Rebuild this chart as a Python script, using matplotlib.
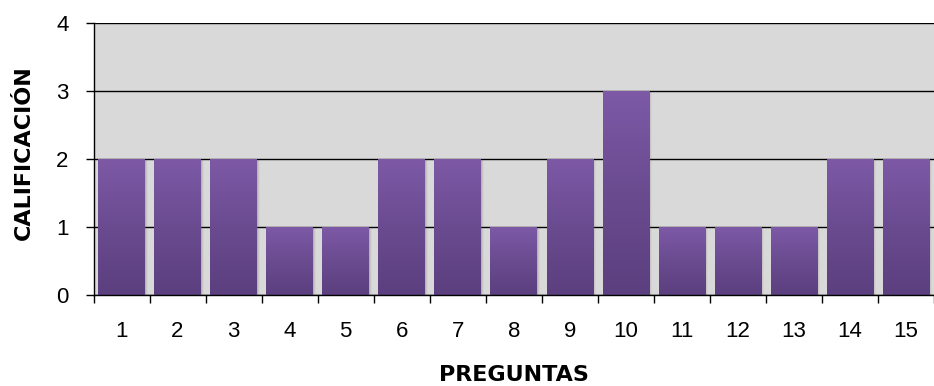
import numpy as np
import matplotlib
matplotlib.use("Agg")
import matplotlib.pyplot as plt
from matplotlib.colors import LinearSegmentedColormap
from matplotlib.patches import Rectangle

preguntas = [str(i) for i in range(1, 16)]
calificacion = [2, 2, 2, 1, 1, 2, 2, 1, 2, 3, 1, 1, 1, 2, 2]

plt.rcParams['font.family'] = ['Liberation Sans', 'DejaVu Sans']

W, H = 934, 386
left_px, top_px, bottom_px = 93.5, 23, 295
fig = plt.figure(figsize=(W / 100, H / 100), dpi=100)
ax = fig.add_axes([left_px / W, 1 - bottom_px / H, 1 - left_px / W, (bottom_px - top_px) / H])
ax.set_facecolor('#d9d9d9')

x = np.arange(len(preguntas))
width = 0.83
grad = LinearSegmentedColormap.from_list('purp', ['#5b3f7e', '#6a4b90', '#7d59a6'])

bars = ax.bar(x, calificacion, width=width, color='none', edgecolor='none', zorder=3)
for b in bars:
    x0, w, h = b.get_x(), b.get_width(), b.get_height()
    # soft shadow on the right of each bar
    for k, a in enumerate([0.20, 0.12, 0.06]):
        ax.add_patch(Rectangle((x0 + w, 0), 0.018 * (k + 1), h - 0.02,
                               facecolor='#707070', alpha=a, edgecolor='none', zorder=2.5))
    img = np.linspace(0, 1, 256).reshape(-1, 1)
    im = ax.imshow(img, cmap=grad, aspect='auto', origin='lower',
                   extent=(x0, x0 + w, 0, h), zorder=3, interpolation='bilinear')
    im.set_clip_path(b)

# the plot area runs slightly past the right edge of the figure
ax.set_xlim(-0.5, 14.3)
ax.set_ylim(0, 4)
ax.set_yticks([0, 1, 2, 3, 4])
ax.yaxis.grid(True, color='black', linewidth=1.0, zorder=1)
ax.set_axisbelow(True)

ax.set_xticks(x)
ax.set_xticklabels(preguntas, fontsize=16)
ax.set_xticks(np.arange(-0.5, len(preguntas), 1), minor=True)
ax.tick_params(axis='x', which='major', length=0, pad=19)
ax.tick_params(axis='x', which='minor', length=6, width=1, color='black', direction='out')
ax.tick_params(axis='y', length=6, width=1, labelsize=16, pad=12, direction='out')

for s in ['top', 'right']:
    ax.spines[s].set_visible(False)
for s in ['left', 'bottom']:
    ax.spines[s].set_color('black')
    ax.spines[s].set_linewidth(1.0)
    ax.spines[s].set_zorder(4)

ax.set_xlabel('PREGUNTAS', fontsize=16, fontweight='bold', family='DejaVu Sans')
ax.set_ylabel('CALIFICACIÓN', fontsize=16, fontweight='bold', family='DejaVu Sans')
ax.xaxis.set_label_coords((514 - left_px) / (W - left_px), (bottom_px - 375) / (bottom_px - top_px))
ax.xaxis.label.set_va('center')
ax.yaxis.set_label_coords((24 - left_px) / (W - left_px), 0.525)
ax.yaxis.label.set_va('center')
ax.yaxis.label.set_ha('center')

fig.savefig('out.png', dpi=100)
